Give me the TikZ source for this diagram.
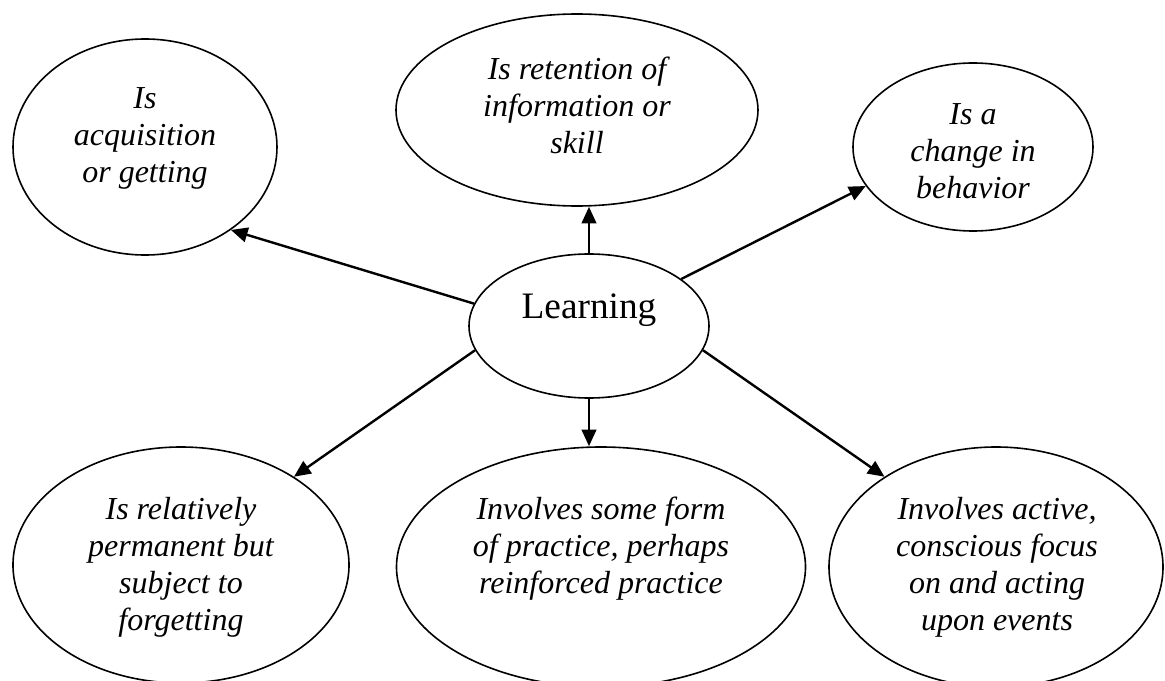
\documentclass[tikz,border=0pt]{standalone}
\usepackage{fontspec}
\setmainfont{Liberation Serif}
\usepackage{tikz}
\usetikzlibrary{shapes.geometric,arrows.meta}

\begin{document}
\begin{tikzpicture}[x=0.75pt,y=0.75pt,yscale=-1,xscale=1,
  bubble/.style={draw, ellipse, line width=1.2pt, inner sep=0pt},
  note/.style={align=center, inner sep=0pt, font=\fontsize{24}{27.75}\selectfont\itshape},
  link/.style={line width=1.8pt, -{Triangle[length=12.5pt,width=11pt]}}]
\clip (0,0) rectangle (1165,681);

%Shape: Ellipse
\node [bubble, minimum width=180pt, minimum height=108pt] (learn) at (589,326) {};
%Shape: Ellipse
\node [bubble, minimum width=198pt, minimum height=162pt] (acq) at (145,147) {};
%Shape: Ellipse
\node [bubble, minimum width=271.5pt, minimum height=144pt] (ret) at (577,110) {};
%Shape: Ellipse
\node [bubble, minimum width=180pt, minimum height=126pt] (chg) at (973,147) {};
%Shape: Ellipse
\node [bubble, minimum width=252pt, minimum height=177pt] (perm) at (181,565) {};
%Shape: Ellipse
\node [bubble, minimum width=306.75pt, minimum height=180pt] (prac) at (601,567) {};
%Shape: Ellipse
\node [bubble, minimum width=250.5pt, minimum height=180pt] (act) at (996,567) {};

% Text Node
\draw (589,310) node [inner sep=0pt, font=\fontsize{28}{32}\selectfont] (learntext) {Learning};
% Text Node
\draw (145,138) node [note] (acqtext) {Is\\acquisition\\or getting};
% Text Node
\draw (577,105) node [note] (rettext) {Is retention of\\information or\\skill};
% Text Node
\draw (973,151) node [note] (chgtext) {Is a\\change in\\behavior};
% Text Node
\draw (181,567) node [note] (permtext) {Is relatively\\permanent but\\subject to\\forgetting};
% Text Node
\draw (601,549) node [note] (practext) {Involves some form\\of practice, perhaps\\reinforced practice};
% Text Node
\draw (997,567) node [note] (acttext) {Involves active,\\conscious focus\\on and acting\\upon events};

%Straight Lines
\draw [link] (learn.169) -- (acq.-44);
\draw [link] (learn.north) -- (learn.north |- ret.south);
\draw [link] (learn.27) -- (chg.200);
\draw [link] (learn.192) -- (perm.38);
\draw [link] (learn.south) -- (learn.south |- prac.north);
\draw [link] (learn.-12) -- (act.141);

\end{tikzpicture}
\end{document}
